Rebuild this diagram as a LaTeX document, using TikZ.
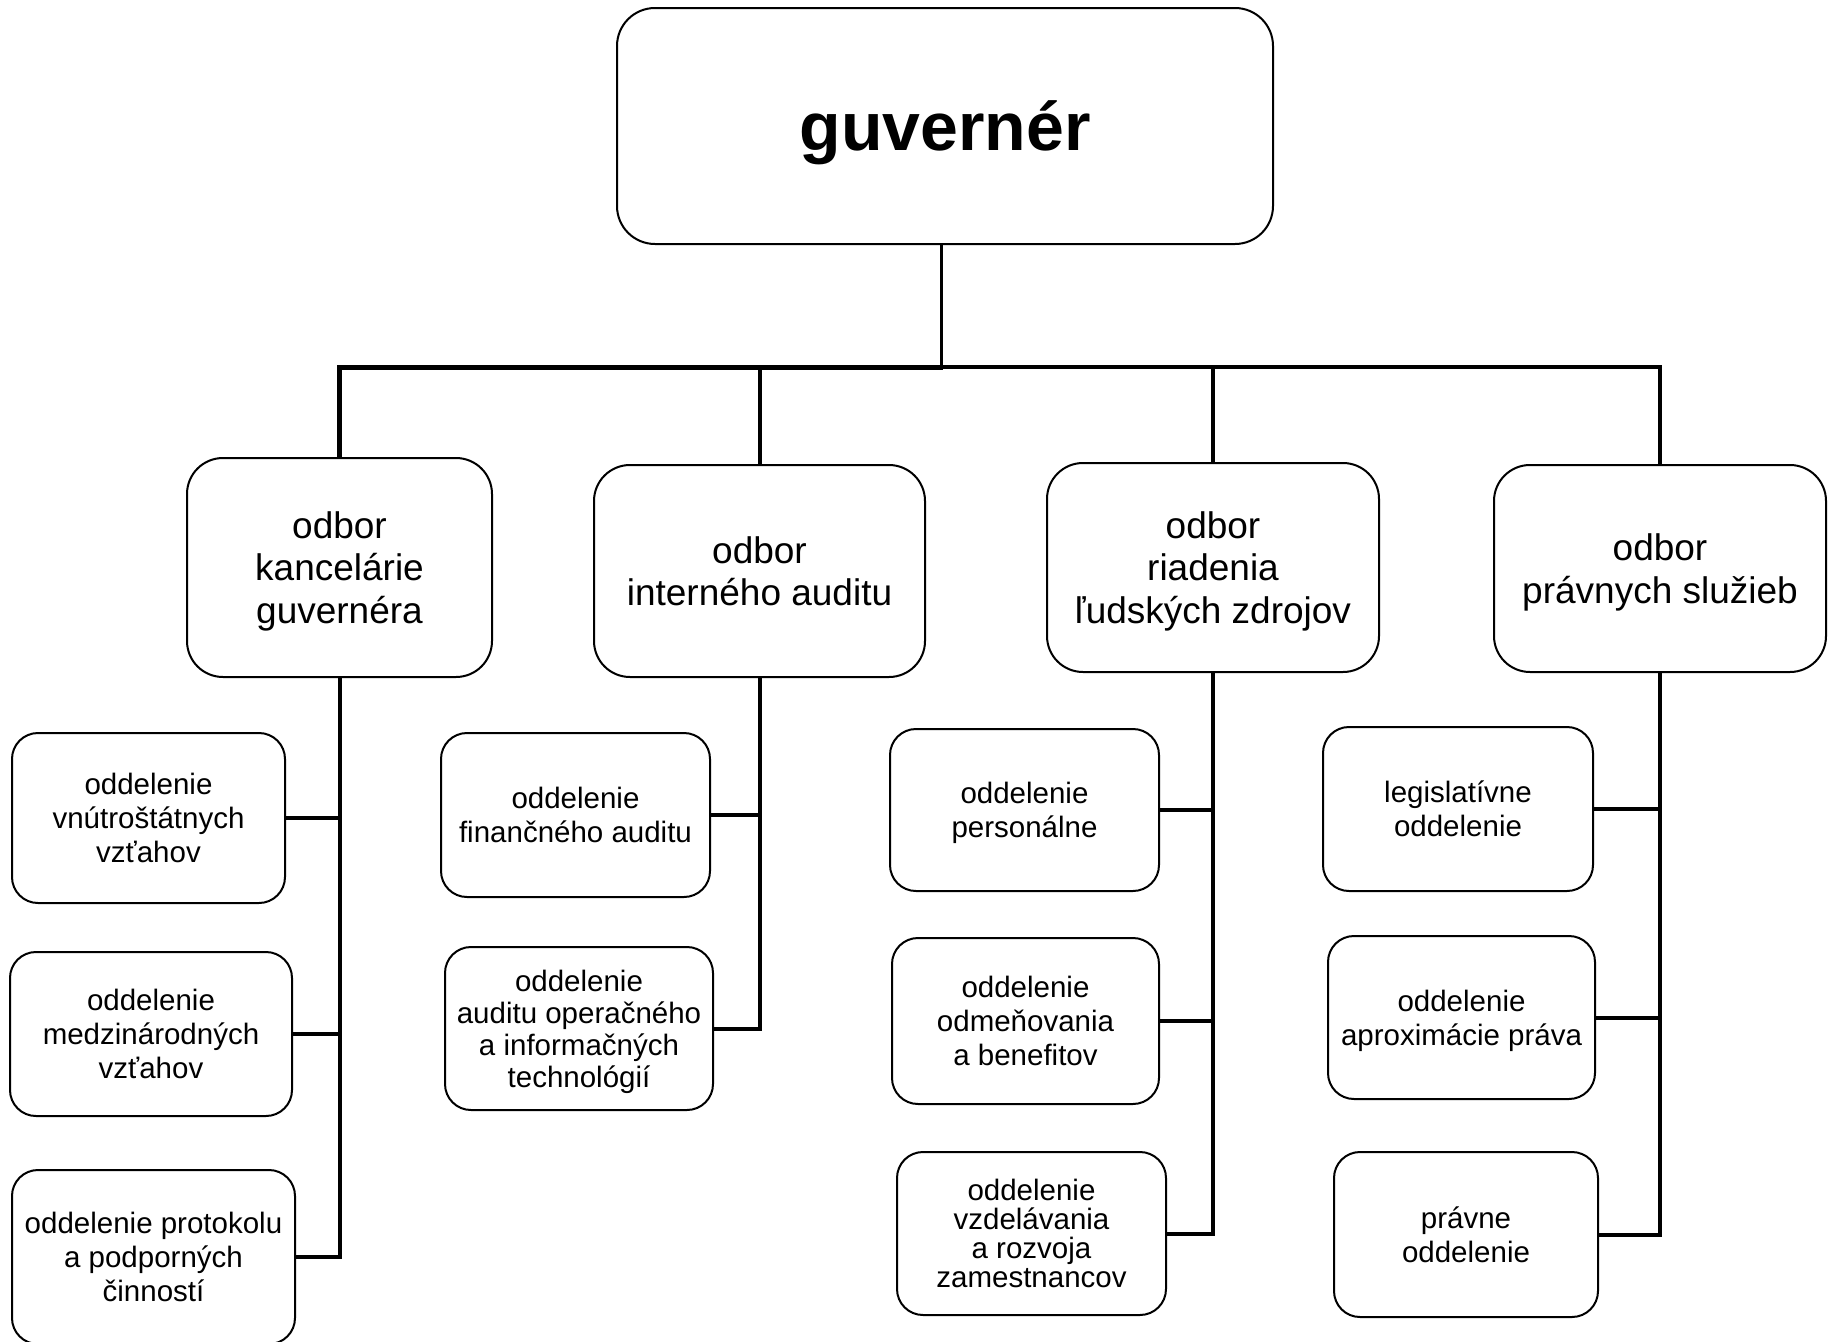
\documentclass[tikz,border=0pt]{standalone}
\usepackage{fontspec}
\setmainfont{Liberation Sans}
\newcommand\fgov{\fontsize{68}{78}\selectfont\bfseries}
\newcommand\fdept{\fontsize{37}{42.5}\selectfont}
\newcommand\fsub{\fontsize{29.5}{34}\selectfont}
\newcommand\fsubb{\fontsize{29.5}{32}\selectfont}
\newcommand\fsubc{\fontsize{29.5}{29}\selectfont}
\tikzset{
  box/.style={draw, line width=2pt, rounded corners=26pt, align=center, inner sep=0pt, fill=white},
  govbox/.style={box, rounded corners=38pt, font=\fgov, text depth=-4pt},
  deptbox/.style={box, rounded corners=36pt, font=\fdept, text depth=-3pt},
  subbox/.style={box, font=\fsub, text depth=0pt},
  conn/.style={draw, line width=4pt, line join=miter},
  busleft/.style={draw, line width=5pt, line join=miter},
  stem/.style={draw, line width=3pt}
}
\begin{document}
\begin{tikzpicture}[x=1pt,y=-1pt]
\useasboundingbox (0,0) rectangle (1833,1341);
% top
\node[govbox, minimum width=656pt, minimum height=236pt] (gov) at (945,126) {guvernér};
% departments
\node[deptbox, minimum width=305pt, minimum height=219pt] (d1) at (339.5,567.5) {odbor\\kancelárie\\guvernéra};
\node[deptbox, minimum width=331pt, minimum height=212pt] (d2) at (759.5,571) {odbor\\interného auditu};
\node[deptbox, minimum width=332pt, minimum height=209pt] (d3) at (1213,567.5) {odbor\\riadenia\\ľudských zdrojov};
\node[deptbox, minimum width=332pt, minimum height=207pt] (d4) at (1660,568.5) {odbor\\právnych služieb};
% sub units
\node[subbox, minimum width=273pt, minimum height=170pt] (l1) at (148.5,818) {oddelenie\\vnútroštátnych\\vzťahov};
\node[subbox, minimum width=282pt, minimum height=164pt] (l2) at (151,1034) {oddelenie\\medzinárodných\\vzťahov};
\node[subbox, minimum width=283pt, minimum height=174pt] (l3) at (153.5,1257) {oddelenie protokolu\\a podporných\\činností};
\node[subbox, minimum width=269pt, minimum height=164pt] (f1) at (575.5,815) {oddelenie\\finančného auditu};
\node[subbox, font=\fsubb, minimum width=268pt, minimum height=163pt] (f2) at (579,1028.5) {oddelenie\\auditu operačného\\a informačných\\technológií};
\node[subbox, minimum width=269pt, minimum height=162pt] (p1) at (1024.5,810) {oddelenie\\personálne};
\node[subbox, minimum width=267pt, minimum height=166pt] (p2) at (1025.5,1021) {oddelenie\\odmeňovania\\a benefitov};
\node[subbox, font=\fsubc, minimum width=269pt, minimum height=163pt] (p3) at (1031.5,1233.5) {oddelenie\\vzdelávania\\a rozvoja\\zamestnancov};
\node[subbox, minimum width=270pt, minimum height=164pt] (r1) at (1458,809) {legislatívne\\oddelenie};
\node[subbox, minimum width=267pt, minimum height=163pt] (r2) at (1461.5,1017.5) {oddelenie\\aproximácie práva};
\node[subbox, minimum width=264pt, minimum height=165pt] (r3) at (1466,1234.5) {právne\\oddelenie};
% bus
\coordinate (bus) at (941,367);
\draw[stem] (gov.south -| bus) -- (bus);
\draw[busleft] (d1.north) -- (d1.north |- bus) -- ([xshift=1.5pt]bus);
\draw[conn] (bus) -- (d4.north |- bus) -- (d4.north);
\draw[conn] (d2.north |- bus) -- (d2.north);
\draw[conn] (d3.north |- bus) -- (d3.north);
% department trunks
\draw[conn] (d1.south) -- (d1.south |- l3.east) -- (l3.east);
\draw[conn] (l1.east) -- (l1.east -| d1.south);
\draw[conn] (l2.east) -- (l2.east -| d1.south);
\draw[conn] (d2.south) -- (d2.south |- f2.east) -- (f2.east);
\draw[conn] (f1.east) -- (f1.east -| d2.south);
\draw[conn] (d3.south) -- (d3.south |- p3.east) -- (p3.east);
\draw[conn] (p1.east) -- (p1.east -| d3.south);
\draw[conn] (p2.east) -- (p2.east -| d3.south);
\draw[conn] (d4.south) -- (d4.south |- r3.east) -- (r3.east);
\draw[conn] (r1.east) -- (r1.east -| d4.south);
\draw[conn] (r2.east) -- (r2.east -| d4.south);
\end{tikzpicture}
\end{document}
